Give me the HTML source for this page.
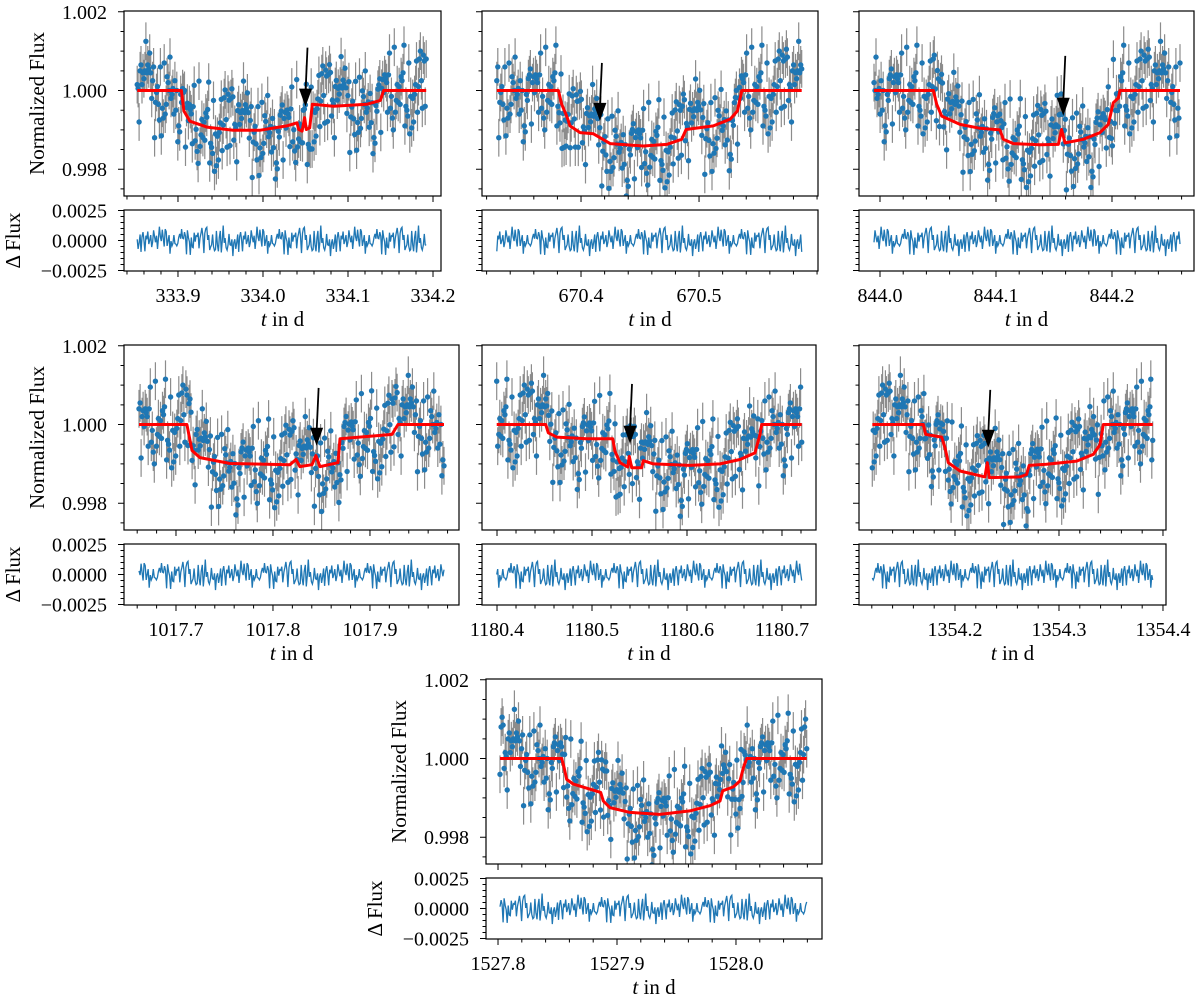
<!DOCTYPE html>
<html>
<head>
<meta charset="utf-8">
<style>
html,body{margin:0;padding:0;background:#fff;}
svg text{font-family:"Liberation Serif","DejaVu Serif",serif;fill:#000;}
</style>
</head>
<body>
<svg id="fig" width="1200" height="1002" viewBox="0 0 1200 1002" xmlns="http://www.w3.org/2000/svg">
<rect width="1200" height="1002" fill="#fff"/>
</svg>
<script>
// ---- shared noise (hand-typed, in units of sigma) ----
const noise=[0.3,-1.2,0.8,1.5,-0.4,-2.1,0.9,0.1,-0.7,1.9,-1.1,0.5,-0.2,2.3,-1.6,0.7,-0.9,0.2,1.2,-0.5,-1.8,1.0,0.4,-0.3,1.6,-2.4,0.6,-0.8,1.3,0.0,-1.4,2.0,-0.6,0.8,-1.0,0.3,1.7,-2.0,0.5,-0.1,1.1,-1.3,0.9,-0.4,2.2,-0.9,0.2,-1.7,1.4,0.6,-0.2,-1.1,1.8,-0.7,0.4,-2.2,1.0,0.1,-0.5,1.5,-1.5,0.7,-0.3,2.5,-1.2,0.3,-0.8,1.2,-0.1,-1.9,0.9,0.5,-0.6,1.6,-2.3,0.8,-0.4,1.3,-1.0,0.2,2.1,-0.9,0.6,-1.6,1.1,0.0,-0.7,1.7,-1.4,0.4,-0.2,1.9,-2.6,0.7,-0.5,1.4,-1.1,0.3,0.9,-1.8,0.5];

// ---- model curves (time in d, normalized flux) ----
const p1T=[333.852,333.904,333.907,333.914,333.934,333.965,333.996,334.028,334.040,334.042,334.046,334.049,334.051,334.055,334.058,334.083,334.122,334.138,334.142,334.192];
const p1F=[1,1,0.99948,0.99922,0.99907,0.99899,0.99899,0.99910,0.99918,0.99901,0.99897,0.99931,0.99901,0.99905,0.99965,0.99960,0.99965,0.99975,1,1];
const p2T=[670.3286,670.3808,670.3836,670.3879,670.3907,670.3992,670.4105,670.4246,670.4528,670.4726,670.4853,670.4890,670.5121,670.5263,670.5325,670.5362,670.5870];
const p2F=[1,1,0.99965,0.99935,0.99910,0.99893,0.99890,0.99865,0.99859,0.99863,0.99876,0.99901,0.99910,0.99927,0.99948,1,1];
const p3T=[843.9948,844.0460,844.0489,844.0532,844.0690,844.0862,844.1034,844.1063,844.1149,844.1379,844.1537,844.1566,844.1595,844.1753,844.1897,844.1968,844.2011,844.2055,844.2069,844.2586];
const p3F=[1,1,0.99965,0.99935,0.99914,0.99904,0.99900,0.99876,0.99865,0.99862,0.99863,0.99901,0.99867,0.99876,0.99893,0.99914,0.99969,0.99981,1,1];
const p4T=[1017.6619,1017.7113,1017.7165,1017.7247,1017.7557,1017.8175,1017.8237,1017.8278,1017.8402,1017.8443,1017.8485,1017.8670,1017.8691,1017.9227,1017.9289,1017.9763];
const p4F=[1,1,0.99934,0.99916,0.99901,0.99898,0.99911,0.99893,0.99898,0.99921,0.99893,0.99903,0.99964,0.99975,1,1];
const p5T=[1180.3997,1180.4513,1180.4540,1180.4628,1180.4944,1180.5218,1180.5242,1180.5295,1180.5376,1180.5393,1180.5418,1180.5523,1180.5540,1180.5646,1180.6032,1180.6347,1180.6558,1180.6716,1180.6768,1180.6786,1180.7207];
const p5F=[1,1,0.99979,0.99968,0.99964,0.99964,0.99932,0.99903,0.99892,0.99919,0.99890,0.99890,0.99908,0.99900,0.99896,0.99900,0.99911,0.99928,0.99975,1,1];
const p6T=[1354.1205,1354.1695,1354.1718,1354.1872,1354.1904,1354.1936,1354.2048,1354.2208,1354.2288,1354.2311,1354.2330,1354.2625,1354.2689,1354.2714,1354.2881,1354.3170,1354.3330,1354.3394,1354.3426,1354.3901];
const p6F=[1,1,0.99975,0.99968,0.99941,0.99903,0.99882,0.99872,0.99867,0.99903,0.99865,0.99867,0.99873,0.99896,0.99899,0.99907,0.99924,0.99949,1,1];
const p7T=[1527.8017,1527.8535,1527.8555,1527.8577,1527.8633,1527.8773,1527.8863,1527.8885,1527.8941,1527.9109,1527.9361,1527.9613,1527.9782,1527.9866,1527.9888,1527.9978,1528.0034,1528.0062,1528.0090,1528.0594];
const p7F=[1,1,0.99977,0.99947,0.99935,0.99922,0.99914,0.99892,0.99875,0.99863,0.99858,0.99867,0.99880,0.99892,0.99918,0.99928,0.99943,0.99977,1,1];

// ---- x tick values ----
const p1Ticks=[333.9,334.0,334.1,334.2];
const p2Ticks=[670.4,670.5];
const p3Ticks=[844.0,844.1,844.2];
const p4Ticks=[1017.7,1017.8,1017.9];
const p5Ticks=[1180.4,1180.5,1180.6,1180.7];
const p6Ticks=[1354.2,1354.3,1354.4];
const p7Ticks=[1527.8,1527.9,1528.0];

// ---- y ticks ----
const fluxTicks=[0.998,1.000,1.002];
const fluxTickLabels=["0.998","1.000","1.002"];
const resTicks=[-0.0025,0,0.0025];
const resTickLabels=["\u22120.0025","0.0000","0.0025"];

// ---- arrows (time, tip flux, top flux) ----
const arrowT=[334.050,670.416,844.158,1017.845,1180.540,1354.232];
const arrowTipF=[0.99959,0.99923,0.99936,0.99946,0.99951,0.99941];
const arrowTopF=[1.00109,1.00070,1.00088,1.00093,1.00103,1.00088];

// ---- layout (pixels / limits) ----
const layout=[
 {T:p1T,F:p1F,ticks:p1Ticks,x0:124,x1:441,xmin:333.8365,xmax:334.2094,row:0,ylab:true,arrow:0},
 {T:p2T,F:p2F,ticks:p2Ticks,x0:482,x1:818,xmin:670.3161,xmax:670.6008,row:0,ylab:false,arrow:1},
 {T:p3T,F:p3F,ticks:p3Ticks,x0:859,x1:1194,xmin:843.9819,xmax:844.2707,row:0,ylab:false,arrow:2},
 {T:p4T,F:p4F,ticks:p4Ticks,x0:124,x1:459,xmin:1017.6464,xmax:1017.9918,row:1,ylab:true,arrow:3},
 {T:p5T,F:p5F,ticks:p5Ticks,x0:482,x1:816,xmin:1180.3842,xmax:1180.7358,row:1,ylab:false,arrow:4},
 {T:p6T,F:p6F,ticks:p6Ticks,x0:859,x1:1166,xmin:1354.1077,xmax:1354.4029,row:1,ylab:false,arrow:5},
 {T:p7T,F:p7F,ticks:p7Ticks,x0:486,x1:822,xmin:1527.7899,xmax:1528.0723,row:2,ylab:true,arrow:-1}
];
const rowTop=[11,345,679];
const FLUX_MIN=0.99732, FLUX_MAX=1.00202, RES_LIM=0.00254;
const NPTS=300;

const NS="http://www.w3.org/2000/svg";
const svg=document.getElementById('fig');
function mk(tag,parent,attrs){const e=document.createElementNS(NS,tag);for(const k in attrs)e.setAttribute(k,attrs[k]);parent.appendChild(e);return e;}
function interp(T,F,t){if(t<=T[0])return F[0];for(let i=1;i<T.length;i++){if(t<=T[i]){const a=(t-T[i-1])/(T[i]-T[i-1]);return F[i-1]+a*(F[i]-F[i-1]);}}return F[F.length-1];}

layout.forEach((P,k)=>{
  const top=rowTop[P.row], bot=top+185, rtop=top+199, rbot=top+260;
  const xs=t=>P.x0+(t-P.xmin)/(P.xmax-P.xmin)*(P.x1-P.x0);
  const ys=f=>bot-(f-FLUX_MIN)/(FLUX_MAX-FLUX_MIN)*(bot-top);
  const rs=r=>rbot-(r+RES_LIM)/(2*RES_LIM)*(rbot-rtop);
  const g=mk('g',svg,{});
  
  
  const cid='clip'+k;
  const cp=mk('clipPath',g,{id:cid});mk('rect',cp,{x:P.x0,y:top,width:P.x1-P.x0,height:bot-top});
  const cid2='rclip'+k;
  const cp2=mk('clipPath',g,{id:cid2});mk('rect',cp2,{x:P.x0,y:rtop,width:P.x1-P.x0,height:rbot-rtop});
  const dg=mk('g',g,{'clip-path':'url(#'+cid+')'});
  
  
  const t0=P.T[0], t1=P.T[P.T.length-1];
  let eb='';const pts=[];
  for(let i=0;i<NPTS;i++){
    const t=t0+(t1-t0)*i/(NPTS-1);
    const f=interp(P.T,P.F,t)+0.0005*noise[(i*7+k*11)%noise.length];
    const x=xs(t);
    eb+='M'+x.toFixed(1)+' '+ys(f+0.00048).toFixed(1)+'V'+ys(f-0.00048).toFixed(1);
    pts.push([x,ys(f)]);
  }
  const ebp=mk('path',dg,{d:eb,stroke:'#8c8c8c','stroke-width':1.2,fill:'none'});
  
  
  pts.forEach(p=>{
    const c=mk('circle',dg,{cx:p[0].toFixed(1),cy:p[1].toFixed(1),r:2.7,fill:'#1f77b4'});
    
    
  });
  let md='';P.T.forEach((t,i)=>{md+=(i?'L':'M')+xs(t).toFixed(1)+' '+ys(P.F[i]).toFixed(1);});
  const ml=mk('path',g,{d:md,stroke:'#ff0000','stroke-width':3,fill:'none','stroke-linejoin':'round','clip-path':'url(#'+cid+')'});
  
  
  if(P.arrow>=0){
    const a=P.arrow;
    const ax=xs(arrowT[a]), ty=ys(arrowTipF[a]), tpy=ys(arrowTopF[a]);
    const ag=mk('g',g,{});
    
    
    mk('line',ag,{x1:ax+2,y1:tpy,x2:ax,y2:ty-14,stroke:'#000','stroke-width':1.8});
    mk('path',ag,{d:'M'+(ax-6.5)+' '+(ty-18)+'L'+(ax+6.5)+' '+(ty-18)+'L'+ax+' '+ty+'Z',fill:'#000'});
  }
  let rd='';
  for(let i=0;i<NPTS;i++){
    const t=t0+(t1-t0)*i/(NPTS-1);
    const r=0.0005*noise[(i*13+k*3+17)%noise.length];
    rd+=(i?'L':'M')+xs(t).toFixed(1)+' '+rs(r).toFixed(1);
  }
  const rl=mk('path',g,{d:rd,stroke:'#1f77b4','stroke-width':1.3,fill:'none','clip-path':'url(#'+cid2+')'});
  
  
  const f1=mk('rect',g,{x:P.x0,y:top,width:P.x1-P.x0,height:bot-top,fill:'none',stroke:'#000','stroke-width':1.2});
  
  
  const f2=mk('rect',g,{x:P.x0,y:rtop,width:P.x1-P.x0,height:rbot-rtop,fill:'none',stroke:'#000','stroke-width':1.2});
  
  
  let tk='';
  const mStart=Math.ceil(P.xmin/0.02-1e-6);
  for(let m=mStart;m*0.02<=P.xmax+1e-9;m++){const x=xs(m*0.02);tk+='M'+x+' '+bot+'v3.5M'+x+' '+rbot+'v3.5';}
  P.ticks.forEach(t=>{const x=xs(t);tk+='M'+x+' '+bot+'v6M'+x+' '+rbot+'v6';});
  for(let v=0.9975;v<=1.0021;v+=0.0005){tk+='M'+P.x0+' '+ys(v)+'h-3.5';}
  fluxTicks.forEach(v=>{tk+='M'+P.x0+' '+ys(v)+'h-6';});
  for(let v=-0.0025;v<=0.00251;v+=0.0005){tk+='M'+P.x0+' '+rs(v)+'h-3.5';}
  resTicks.forEach(v=>{tk+='M'+P.x0+' '+rs(v)+'h-6';});
  const tp=mk('path',g,{d:tk,stroke:'#000','stroke-width':1,fill:'none'});
  
  
  P.ticks.forEach(t=>{
    const tx=mk('text',g,{x:xs(t),y:rbot+31,'font-size':20,'text-anchor':'middle'});
    tx.textContent=t.toFixed(1);
    
    
  });
  const xt=mk('text',g,{x:(P.x0+P.x1)/2,y:rbot+55,'font-size':21,'text-anchor':'middle'});
  xt.innerHTML='<tspan font-style="italic">t</tspan> in d';
  
  
  if(P.ylab){
    fluxTicks.forEach((v,i)=>{
      const tx=mk('text',g,{x:P.x0-17,y:ys(v)+7,'font-size':20,'text-anchor':'end'});
      tx.textContent=fluxTickLabels[i];
      
      
    });
    resTicks.forEach((v,i)=>{
      const tx=mk('text',g,{x:P.x0-17,y:rs(v)+7,'font-size':20,'text-anchor':'end'});
      tx.textContent=resTickLabels[i];
      
      
    });
    const yl=mk('text',g,{x:0,y:0,'font-size':21,'text-anchor':'middle',transform:'translate('+(P.x0-80)+','+((top+bot)/2)+') rotate(-90)'});
    yl.textContent='Normalized Flux';
    
    
    const rl2=mk('text',g,{x:0,y:0,'font-size':21,'text-anchor':'middle',transform:'translate('+(P.x0-104)+','+((rtop+rbot)/2)+') rotate(-90)'});
    rl2.textContent='\u0394 Flux';
    
    
  }
});
</script>
</body>
</html>
